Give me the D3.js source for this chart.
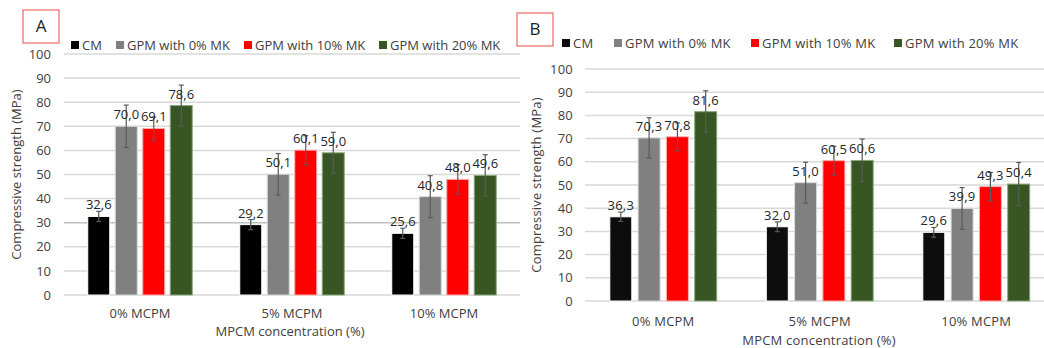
<!DOCTYPE html>
<html>
<head>
<meta charset="utf-8">
<script src="https://cdn.jsdelivr.net/npm/d3@7"></script>
<style>
  body { margin: 0; background: #fff; }
  svg { display: block; font-family: "Open Sans", sans-serif; }
</style>
</head>
<body>
<div id="chart"></div>
<script>
// data
var categories = ["0% MCPM", "5% MCPM", "10% MCPM"];
var seriesNames = ["CM", "GPM with 0% MK", "GPM with 10% MK", "GPM with 20% MK"];
var yTicks = [0, 10, 20, 30, 40, 50, 60, 70, 80, 90, 100];

var valuesA = [
  [32.6, 29.2, 25.6],
  [70.0, 50.1, 40.8],
  [69.1, 60.1, 48.0],
  [78.6, 59.0, 49.6]
];
var errorsA = [
  [2.1, 2.1, 2.1],
  [8.8, 8.6, 8.7],
  [4.7, 6.0, 6.1],
  [8.5, 8.5, 8.6]
];
var valuesB = [
  [36.3, 32.0, 29.6],
  [70.3, 51.0, 39.9],
  [70.8, 60.5, 49.3],
  [81.6, 60.6, 50.4]
];
var errorsB = [
  [2.0, 2.1, 2.1],
  [8.7, 8.8, 9.0],
  [6.0, 6.2, 6.1],
  [9.0, 9.2, 9.3]
];

var width = 1044, height = 348;
var svg = d3.select("#chart").append("svg")
  .attr("width", width)
  .attr("height", height);

var fmt = d3.format(".1f");
function comma(v) { return fmt(v).replace(".", ","); }

function drawPanel(p) {
  var g = svg.append("g");

  var x0 = d3.scaleBand().domain(categories)
    .range([p.left, p.right])
    .paddingInner(p.groupPad).paddingOuter(p.groupPad / 2);
  var x1 = d3.scaleBand().domain(d3.range(seriesNames.length))
    .range([0, x0.bandwidth()])
    .paddingInner(p.barPad);
  var y = d3.scaleLinear().domain([0, 100]).range([p.bottom, p.top]);

  // gridlines
  g.selectAll(".grid").data(yTicks).enter().append("line")
    .attr("x1", p.left).attr("x2", p.right)
    .attr("y1", d => y(d)).attr("y2", d => y(d))
    .style("stroke", d => (p.darkLine === d ? "#bfbfbf" : "#d9d9d9"))
    .style("stroke-width", 1.5);

  // y axis
  var yAxis = d3.axisLeft(y).tickValues(yTicks).tickSize(0).tickPadding(0);
  var ya = g.append("g")
    .attr("transform", "translate(" + p.tickX + ",0)")
    .call(yAxis);
  ya.select(".domain").remove();
  ya.selectAll("text")
    .style("font-family", "Open Sans")
    .style("font-size", "13px")
    .style("fill", "#404040")
    .style("letter-spacing", p.spacing);

  // x axis labels
  var xAxis = d3.axisBottom(x0).tickSize(0).tickPadding(0);
  var xa = g.append("g")
    .attr("transform", "translate(0," + p.catY + ")")
    .call(xAxis);
  xa.select(".domain").remove();
  xa.selectAll("text")
    .attr("dy", "0.35em")
    .style("font-family", "Open Sans")
    .style("font-size", "13px")
    .style("fill", "#404040")
    .style("letter-spacing", p.spacing);

  // bars
  var rows = [];
  p.values.forEach(function(arr, s) {
    arr.forEach(function(v, c) {
      rows.push({s: s, cat: categories[c], v: v, e: p.errors[s][c]});
    });
  });

  g.selectAll(".bar").data(rows).enter().append("rect")
    .attr("x", d => x0(d.cat) + x1(d.s))
    .attr("y", d => y(d.v))
    .attr("width", x1.bandwidth())
    .attr("height", d => y(0) - y(d.v))
    .style("fill", d => p.colors[d.s])
    .style("stroke", d => p.edges[d.s])
    .style("stroke-width", 1);

  // error bars
  var cap = 2.5;
  var eb = g.selectAll(".err").data(rows).enter().append("g")
    .style("stroke", "#5a5a5a").style("stroke-width", 1.2);
  eb.append("line")
    .attr("x1", d => x0(d.cat) + x1(d.s) + x1.bandwidth() / 2)
    .attr("x2", d => x0(d.cat) + x1(d.s) + x1.bandwidth() / 2)
    .attr("y1", d => y(d.v + d.e)).attr("y2", d => y(d.v - d.e));
  eb.append("line")
    .attr("x1", d => x0(d.cat) + x1(d.s) + x1.bandwidth() / 2 - cap)
    .attr("x2", d => x0(d.cat) + x1(d.s) + x1.bandwidth() / 2 + cap)
    .attr("y1", d => y(d.v + d.e)).attr("y2", d => y(d.v + d.e));
  eb.append("line")
    .attr("x1", d => x0(d.cat) + x1(d.s) + x1.bandwidth() / 2 - cap)
    .attr("x2", d => x0(d.cat) + x1(d.s) + x1.bandwidth() / 2 + cap)
    .attr("y1", d => y(d.v - d.e)).attr("y2", d => y(d.v - d.e));

  // value labels
  g.selectAll(".lbl").data(rows).enter().append("text")
    .attr("x", d => x0(d.cat) + x1(d.s) + x1.bandwidth() / 2)
    .attr("y", d => y(d.v) - 7)
    .attr("text-anchor", "middle")
    .style("font-size", "13px")
    .style("fill", "#262626")
    .style("letter-spacing", p.spacing)
    .text(d => comma(d.v));

  // legend
  var lg = g.selectAll(".leg").data(seriesNames).enter().append("g")
    .attr("transform", (d, i) => "translate(" + p.legendX[i] + "," + p.legendY + ")");
  lg.append("rect")
    .attr("x", 0).attr("y", -4).attr("width", 8).attr("height", 8)
    .style("fill", (d, i) => p.colors[i]);
  lg.append("text")
    .attr("x", 11).attr("y", 4.5)
    .style("font-size", "13px")
    .style("fill", "#404040")
    .style("letter-spacing", p.spacing)
    .text(d => d);

  // axis titles
  g.append("text")
    .attr("x", p.xTitleX).attr("y", p.xTitleY)
    .attr("text-anchor", "middle")
    .style("font-size", "13px").style("fill", "#404040")
    .style("letter-spacing", p.spacing)
    .text("MPCM concentration (%)");
  g.append("text")
    .attr("transform", "translate(" + p.yTitleX + "," + ((p.top + p.bottom) / 2) + ") rotate(-90)")
    .attr("text-anchor", "middle")
    .style("font-size", "13px").style("fill", "#404040")
    .style("letter-spacing", p.spacing)
    .text("Compressive strength (MPa)");

  // panel tag
  g.append("rect")
    .attr("x", p.tag[0]).attr("y", p.tag[1]).attr("width", 36).attr("height", 33)
    .style("fill", "#fff").style("stroke", "#f07070").style("stroke-width", 1.3);
  g.append("text")
    .attr("x", p.tag[0] + 18).attr("y", p.tag[1] + 22)
    .attr("text-anchor", "middle")
    .style("font-size", "17px").style("fill", "#222")
    .text(p.name);
}

drawPanel({
  name: "A",
  values: valuesA, errors: errorsA,
  left: 64, right: 520, top: 54, bottom: 295,
  groupPad: 0.3125, barPad: 0.2,
  colors: ["#000000", "#808080", "#ff0000", "#375623"],
  edges: ["#ffffff", "#d9d9d9", "#ffb0b0", "#8aa878"],
  darkLine: 30,
  tickX: 51, catY: 313, xTitleX: 290, xTitleY: 336, yTitleX: 21,
  legendX: [71, 116, 244, 379], legendY: 45,
  tag: [23, 10], spacing: "0px"
});

drawPanel({
  name: "B",
  values: valuesB, errors: errorsB,
  left: 585, right: 1054.5, top: 69, bottom: 301,
  groupPad: 0.317, barPad: 0.223,
  colors: ["#0d0d0d", "#808080", "#ff0000", "#375623"],
  edges: ["#ffffff", "#d9d9d9", "#ffb0b0", "#8aa878"],
  darkLine: null,
  tickX: 573, catY: 321, xTitleX: 819, xTitleY: 345, yTitleX: 541,
  legendX: [562, 614, 751, 894], legendY: 43,
  tag: [517, 13], spacing: "0.2px"
});
</script>
</body>
</html>
